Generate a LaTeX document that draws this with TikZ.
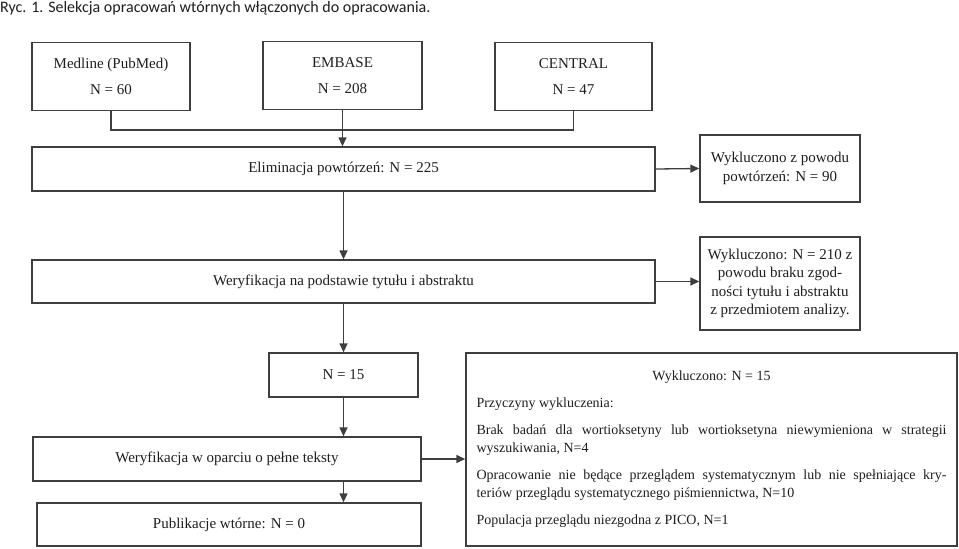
\documentclass[tikz,border=0pt]{standalone}
\usepackage{fontspec}
\setmainfont{Liberation Serif}
\newfontfamily\capfont{Carlito}
\usepackage{tikz}
\usetikzlibrary{arrows.meta,positioning,calc}
\usepackage{xcolor}
\definecolor{linegray}{RGB}{62,62,62}
\definecolor{inkgray}{RGB}{30,30,30}

\begin{document}
\begin{tikzpicture}[x=1pt,y=-1pt,
box/.style={draw=linegray,line width=1.3pt,text=inkgray,inner sep=0pt,
align=center,font=\fontsize{15}{18.5}\selectfont},
arr/.style={draw=linegray,line width=1.3pt,-{Triangle[length=9pt,width=8pt]}},
link/.style={draw=linegray,line width=1.3pt}]
\useasboundingbox (0,0) rectangle (959,549);

\node[anchor=north west,inner sep=0pt,text=inkgray]
(title) at (0,1.5) {\capfont\fontsize{16}{18}\selectfont Ryc. 1. Selekcja opracowań wtórnych włączonych do opracowania.};

% bazy danych
\node[box,minimum width=158pt,minimum height=68pt] (medline) at (111,76.5)
{Medline (PubMed)\\[8pt]N = 60};
\node[box,minimum width=159pt,minimum height=68pt] (embase) at (342.5,75.5)
{EMBASE\\[8pt]N = 208};
\node[box,minimum width=157pt,minimum height=68pt] (central) at (573.5,76.5)
{CENTRAL\\[8pt]N = 47};
\coordinate (join) at (343,130);

\node[box,minimum width=623pt,minimum height=44pt] (elim) at (343.5,169)
{Eliminacja powtórzeń: N = 225};
\node[box,minimum width=160pt,minimum height=67pt] (dup) at (780,168.5)
{Wykluczono z powodu\\powtórzeń: N = 90};

\node[box,minimum width=623pt,minimum height=43pt] (screen) at (343.5,281.5)
{Weryfikacja na podstawie tytułu i abstraktu};
\node[box,minimum width=160pt,minimum height=93pt] (abs) at (780,283.5)
{Wykluczono: N = 210 z\\powodu braku zgod-\\ności tytułu i abstraktu\\z przedmiotem analizy.};

\node[box,minimum width=149pt,minimum height=44pt] (n15) at (343.5,375) {N = 15};
\node[box,minimum width=388pt,minimum height=44pt] (full) at (227,459)
{Weryfikacja w oparciu o pełne teksty};
\node[box,minimum width=384pt,minimum height=43pt] (pub) at (229,524.5)
{Publikacje wtórne: N = 0};

% przyczyny wykluczenia
\node[box,minimum width=491pt,minimum height=193pt,text width=470pt,align=justify,
font=\fontsize{14}{18}\selectfont] (excl) at (711.5,449.5)
{\tolerance=9999 \hyphenpenalty=10000
\centerline{Wykluczono: N = 15}\par\vspace{9pt}
Przyczyny wykluczenia:\par\vspace{9pt}
Brak badań dla wortioksetyny lub wortioksetyna niewymieniona w strategii\linebreak
wyszukiwania, N=4\par\vspace{9pt}
Opracowanie nie będące przeglądem systematycznym lub nie spełniające kry-\linebreak
teriów przeglądu systematycznego piśmiennictwa, N=10\par\vspace{9pt}
Populacja przeglądu niezgodna z PICO, N=1};

\draw[link] (medline.south) |- (join) -| (central.south);
\draw[arr] (embase.south) -- (embase.south |- elim.north);
\draw[arr] (elim.east) -- (dup.west);
\draw[arr] (elim.south) -- (screen.north);
\draw[arr] (screen.east) -- (screen.east -| abs.west);
\draw[arr] (screen.south) -- (n15.north);
\draw[arr] (n15.south) -- (n15.south |- full.north);
\draw[arr] (full.east) -- (full.east -| excl.west);
\draw[arr] (n15.south |- full.south) -- (n15.south |- pub.north);
\end{tikzpicture}
\end{document}
